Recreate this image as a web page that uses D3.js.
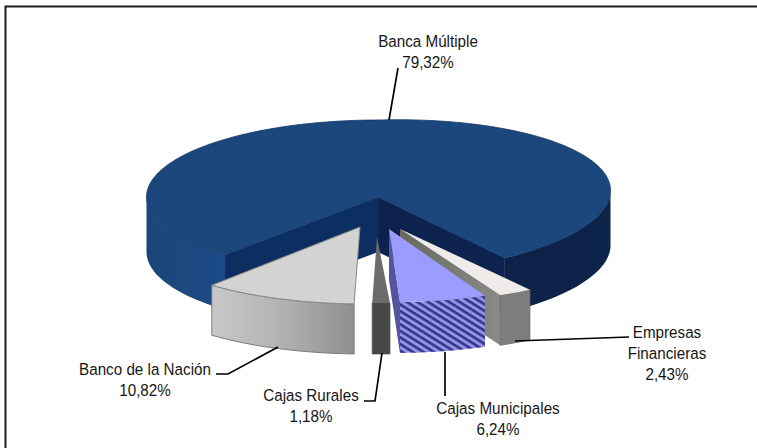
<!DOCTYPE html>
<html><head><meta charset="utf-8">
<script src="https://cdn.jsdelivr.net/npm/d3@7"></script>
<style>html,body{margin:0;padding:0;background:#fff}svg{display:block}text{font-family:"Liberation Sans",Arial,sans-serif;font-size:17px;fill:#161616}</style>
</head><body><svg id="c" width="757" height="448"></svg>
<script>
// Data, pie order runs clockwise starting at the lower right
const categories = ["Empresas Financieras","Cajas Municipales","Cajas Rurales","Banco de la Nación","Banca Múltiple"];
const shares = [2.43,6.24,1.18,10.82,79.32];
const shareLabels = ["2,43%","6,24%","1,18%","10,82%","79,32%"];

const svg = d3.select("#c");
const W=757,H=448;
const rad = d=>d*Math.PI/180;
const pie = d3.pie().sort(null).startAngle(rad(147)).endAngle(rad(507));
const arcs = pie(shares);

// Projected geometry of every exploded piece: ellipse centre/radii, tip of the wedge, depth
const geom = [
 {cx:409,cy:226,rx:222,ry:76,tx:400,ty:229,depth:50},
 {cx:393,cy:232,rx:224,ry:70,tx:389,ty:229,depth:51},
 {cx:382.5,cy:227,rx:240,ry:76,tx:377,ty:237,depth:51},
 {cx:364,cy:229,rx:230,ry:75,tx:360,ty:227,depth:50},
 {cx:378.5,cy:197,rx:232,ry:77,tx:378,ty:197,depth:55,tilt:0.028}
];
const line = d3.line();
const pt = (g,a,dy=0)=>{const x=g.cx+g.rx*Math.sin(a);
  return [x, g.cy-g.ry*Math.cos(a)+dy-(g.tilt||0)*Math.max(0,x-g.cx)];};
const sweep = (g,a0,a1,dy=0)=>{const n=Math.max(2,Math.ceil(Math.abs(a1-a0)/rad(2)));
  return d3.range(n+1).map(i=>pt(g,a0+(a1-a0)*i/n,dy));};
const topFace = (g,a0,a1)=>line([[g.tx,g.ty],...sweep(g,a0,a1)])+"Z";
const rimFace = (g,a0,a1)=>line([...sweep(g,a0,a1),...sweep(g,a1,a0,g.depth)])+"Z";
const cutFace = (g,a)=>line([[g.tx,g.ty],pt(g,a),pt(g,a,g.depth),[g.tx,g.ty+g.depth]])+"Z";

// Defs
const defs = svg.append("defs");
const grad=(id,x1,x2,stops)=>{const l=defs.append("linearGradient").attr("id",id).attr("gradientUnits","userSpaceOnUse")
  .attr("x1",x1).attr("x2",x2).attr("y1",0).attr("y2",0);
  stops.forEach(s=>l.append("stop").attr("offset",s[0]).attr("stop-color",s[1]));};
grad("gNacion",210,357,[[0,"#c8c8c8"],[0.45,"#b4b4b4"],[1,"#8e8e8e"]]);
grad("gLeft",147,230,[[0,"#1c4577"],[1,"#1a4a8a"]]);
grad("gRight",500,612,[[0,"#0b2148"],[1,"#0e2548"]]);
grad("gWall",400,500,[[0,"#666a5e"],[1,"#8a8a86"]]);
const pat = defs.append("pattern").attr("id","hatch").attr("patternUnits","userSpaceOnUse")
  .attr("width",6).attr("height",5.6).attr("patternTransform","rotate(32)");
pat.append("rect").attr("width",6).attr("height",5.6).attr("fill","#9494e6");
pat.append("rect").attr("width",6).attr("height",2.6).attr("fill","#34348a");
defs.append("filter").attr("id","soft").append("feGaussianBlur").attr("stdDeviation",0.5);

// Frame
svg.append("path").attr("d",line([[5.5,H],[5.5,6.5],[W,6.5]])).attr("fill","none").attr("stroke","#1c1c1c").attr("stroke-width",2);

const P = arcs.map((a,i)=>({a0:a.startAngle,a1:a.endAngle,g:geom[i]}));
const pieG = svg.append("g").attr("filter","url(#soft)");
const add=(d,fill,stroke,sw)=>pieG.append("path").attr("d",d).attr("fill",fill)
   .attr("stroke",stroke||"none").attr("stroke-width",sw||0).attr("stroke-linejoin","round");

// Banca Multiple (back)
{const {a0,a1,g}=P[4];
 add(rimFace(g,a0,rad(270)),"url(#gLeft)");
 add(rimFace(g,rad(450),a1),"url(#gRight)");
 add(cutFace(g,a0),"#0f2e60");
 add(cutFace(g,a1),"#0b2250");
 add(topFace(g,a0,a1),"#1a477c","#143a68",0.8);
}
// Empresas Financieras
{const {a0,a1,g}=P[0];
 add(cutFace(g,a1),"url(#gWall)");
 add(rimFace(g,a0,a1),"#7e7e7e","#6a6a6a",0.8);
 add(topFace(g,a0,a1),"#efebe8");
}
// Cajas Municipales
{const {a0,a1,g}=P[1];
 add(cutFace(g,a1),"#54549f");
 add(rimFace(g,a0,a1),"url(#hatch)");
 add(topFace(g,a0,a1),"#9c9cff");
}
// Cajas Rurales
{const {a0,a1,g}=P[2];
 add(rimFace(g,a0,a1),"#464646","#555",0.8);
 add(topFace(g,a0,a1),"#6c6c6c");
}
// Banco de la Nacion
{const {a0,a1,g}=P[3];
 add(rimFace(g,a0,a1),"url(#gNacion)","#7c7c7c",1);
 add(topFace(g,a0,a1),"#d3d3d3","#8a8a86",1);
}

// Leader lines and labels (order follows categories)
const leaders = [
 [[515,341],[629,337]],
 [[445,352],[445,396]],
 [[382,353],[375,401],[364,401]],
 [[278,347],[228,374],[216,374]],
 [[389,120],[398,68]]
];
const labelLines = [["Empresas","Financieras"],["Cajas Municipales"],["Cajas Rurales"],["Banco de la Nación"],["Banca Múltiple"]];
const labelAnchor = [[667,338],[498,414],[311,401],[145,375],[428,47]];
leaders.forEach(l=>svg.append("path").attr("d",line(l)).attr("fill","none").attr("stroke","#000").attr("stroke-width",1.7));
categories.forEach((c,i)=>{
  const rows=[...labelLines[i],shareLabels[i]];
  const [x,y]=labelAnchor[i];
  const t=svg.append("text").attr("text-anchor","middle").attr("transform",`translate(${x},${y}) scale(0.895,1)`);
  rows.forEach((r,k)=>t.append("tspan").attr("x",0).attr("y",k*21).text(r));
});
</script></body></html>
